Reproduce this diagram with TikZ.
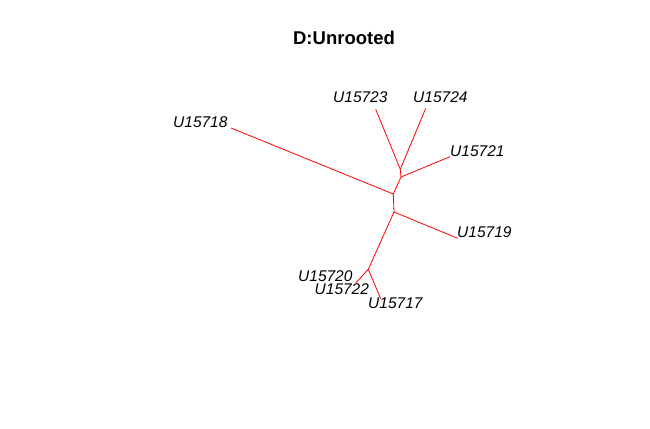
\documentclass[tikz,border=0pt]{standalone}
\usepackage{fontspec}
\setmainfont{Liberation Sans}
\begin{document}
\begin{tikzpicture}[x=1pt,y=-1pt,
  edge/.style={red,line width=0.8pt},
  tip/.style={inner sep=0pt,font=\fontsize{15.5}{16}\selectfont\itshape},
  ttl/.style={inner sep=0pt,font=\fontsize{18.5}{20}\selectfont\bfseries}]
\useasboundingbox[fill=white] (0,0) rectangle (650,428);
\node[ttl,anchor=base] (title) at (344,45) {D:Unrooted};
% tips and internal vertices
\coordinate (t18) at (231,128);
\coordinate (t23) at (375.7,109.3);
\coordinate (t24) at (425.7,108.3);
\coordinate (t21) at (450,156.7);
\coordinate (t19) at (457.7,238.3);
\coordinate (t2022) at (356,282.7);
\coordinate (t17) at (380.7,298.7);
\coordinate (j1) at (400.3,169.3);
\coordinate (ja) at (401,177);
\coordinate (jb) at (393.3,194);
\coordinate (jc) at (394,212);
\coordinate (jd) at (368.3,269.3);
\draw[edge] (j1) -- (t23);
\draw[edge] (j1) -- (t24);
\draw[edge] (j1) -- (ja);
\draw[edge] (ja) -- (t21);
\draw[edge] (ja) -- (jb);
\draw[edge] (jb) -- (t18);
\draw[edge] (jb) -- (jc);
\draw[edge] (jc) -- (t19);
\draw[edge] (jc) -- (jd);
\draw[edge] (jd) -- (t2022);
\draw[edge] (jd) -- (t17);
% labels
\node[tip,anchor=base west] (l18) at (173,127.7) {U15718};
\node[tip,anchor=base west] (l23) at (333,102.3) {U15723};
\node[tip,anchor=base west] (l24) at (413,102.3) {U15724};
\node[tip,anchor=base west] (l21) at (450,156.7) {U15721};
\node[tip,anchor=base west] (l19) at (457,237.7) {U15719};
\node[tip,anchor=base west] (l20) at (298,281) {U15720};
\node[tip,anchor=base west] (l22) at (314.5,294.3) {U15722};
\node[tip,anchor=base west] (l17) at (368,308.7) {U15717};
\end{tikzpicture}
\end{document}
